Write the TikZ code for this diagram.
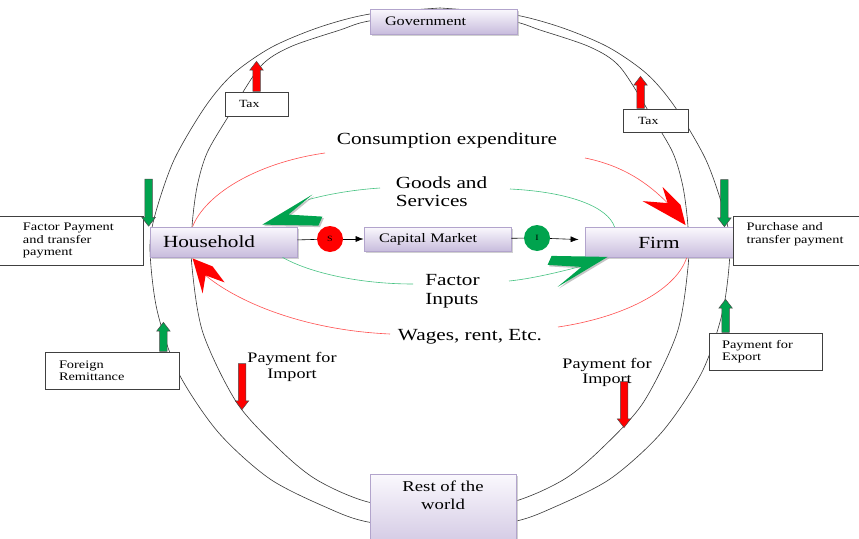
\documentclass[tikz,border=0pt]{standalone}
\usepackage{fontspec}
\setmainfont{Liberation Serif}[FakeStretch=1.25]
\usetikzlibrary{arrows.meta,shapes.arrows,shadows}

\definecolor{boxtop}{RGB}{250,248,253}
\definecolor{boxbot}{RGB}{200,188,221}
\definecolor{boxline}{RGB}{178,164,204}
\definecolor{flowred}{RGB}{255,80,80}
\definecolor{flowgreen}{RGB}{70,195,130}
\definecolor{leafgreen}{RGB}{0,163,78}
\definecolor{ringgray}{RGB}{55,55,55}

\newcommand{\fsz}[2]{\fontsize{#1}{#2}\selectfont}

\tikzset{
  sector/.style={draw=boxline, line width=0.8pt, top color=boxtop, bottom color=boxbot,
    drop shadow={shadow xshift=1.5pt, shadow yshift=-1.5pt, fill=black!30, opacity=0.6},
    minimum height=30pt, inner ysep=0pt, align=left},
  infobox/.style={draw=black!75, line width=0.8pt, fill=white, inner ysep=0pt,
    align=left, font=\fsz{11.5}{12.5}},
  flowtext/.style={fill=white, inner sep=1pt, align=left, font=\fsz{17}{18.5}},
  ring/.style={draw=ringgray, line width=0.6pt},
  redflow/.style={draw=flowred, line width=0.6pt},
  greenflow/.style={draw=flowgreen, line width=0.6pt},
  redchev/.style={fill=red},
  greenchev/.style={fill=leafgreen, drop shadow={shadow xshift=1.5pt, shadow yshift=-1.5pt, fill=black!45, opacity=0.5}},
  blockarrow/.style={single arrow, draw=black!70, line width=0.5pt, inner sep=3.5pt,
    single arrow head extend=3pt, single arrow tip angle=75, minimum height=#1},
  uparrow/.style={blockarrow=#1, shape border rotate=90},
  downarrow/.style={blockarrow=#1, shape border rotate=270},
}

\begin{document}
\begin{tikzpicture}[x=1pt, y=-1pt, >=Latex]
  \useasboundingbox (0,0) rectangle (859,538);
  \fill[white] (0,0) rectangle (859,538);
  \clip (0,0) rectangle (859,538);

  % draw the two rings, left half and its mirror image
  \foreach \s in {1,-1} {
    \draw[ring, xshift=440pt, xscale=\s] plot[smooth] coordinates
      {(0,8) (-70,14) (-120,27) (-168,47) (-207,74) (-235,107) (-266,160) (-285,215)
       (-290,250) (-283,310) (-262,372) (-222,432) (-170,479) (-110,509) (-72,522) (0,531)};
    \draw[ring, xshift=440pt, xscale=\s] plot[smooth] coordinates
      {(0,12) (-71,21) (-100,30) (-150,47) (-180,67) (-212,117) (-233,153) (-243,187)
       (-248,227) (-248,267) (-237,333) (-203,403) (-160,450) (-123,480) (-72,502) (0,512)};
  }

  % the sectors
  \node[sector, minimum width=147pt, minimum height=25pt, text width=117pt, inner xsep=15pt,
    font=\fsz{13}{15}] (gov) at (443.5,21.5) {Government};
  \node[sector, minimum width=147pt, text width=121pt, inner xsep=13pt,
    font=\fsz{17}{20}] (hh) at (223.5,242) {Household};
  \node[sector, minimum width=148pt, text width=120pt, inner xsep=14pt, align=center,
    font=\fsz{17}{20}] (firm) at (659,242.5) {Firm};
  \node[sector, minimum width=147pt, minimum height=24pt, text width=117pt, inner xsep=15pt,
    font=\fsz{13}{15}] (cap) at (437.5,239) {Capital Market};
  \node[sector, minimum width=146pt, minimum height=90pt, anchor=north,
    label={[anchor=north, yshift=-3pt, align=center, font=\fsz{15}{18}]north:Rest of the\\world}]
    (row) at (443,474) {};

  % boxes for the outer flows
  \node[infobox, minimum width=63pt, minimum height=24pt, text width=35pt, inner xsep=14pt,
    font=\fsz{11}{12}] (taxL) at (256.5,104) {Tax};
  \node[infobox, minimum width=65pt, minimum height=23pt, text width=35pt, inner xsep=15pt,
    font=\fsz{11}{12}] (taxR) at (655.5,120.5) {Tax};
  \node[infobox, minimum width=144pt, minimum height=49pt, text width=96pt, inner xsep=24pt]
    (fpay) at (71,240.5) {Factor Payment\\and transfer\\payment};
  \node[infobox, minimum width=150pt, minimum height=49pt, anchor=north west,
    label={[anchor=north west, xshift=10pt, yshift=-3pt, align=left, font=\fsz{11.5}{12.5}]north west:Purchase and\\transfer payment}]
    (purch) at (733,216) {};
  \node[infobox, minimum width=134pt, minimum height=37pt, text width=106pt, inner xsep=14pt]
    (fr) at (112,370.5) {Foreign\\Remittance};
  \node[infobox, minimum width=113pt, minimum height=37pt, text width=87pt, inner xsep=13pt]
    (exp) at (765.5,351.5) {Payment for\\Export};

  % saving and investment
  \node[circle, fill=red, minimum size=26pt, inner sep=0pt, font=\fsz{8}{9}] (sav) at (330,239) {S};
  \node[circle, fill=leafgreen, minimum size=26pt, inner sep=0pt, font=\fsz{8}{9}] (inv) at (537,238) {I};
  \draw[line width=0.6pt] (hh) -- (sav);
  \draw[line width=0.6pt, -{Latex[length=8pt,width=6pt]}] (sav) -- (cap);
  \draw[line width=0.6pt] (cap) -- (inv);
  \draw[line width=0.6pt, -{Latex[length=8pt,width=6pt]}, shorten >=6pt] (inv) -- (firm);

  % labels of the inner flows
  \node[flowtext, align=center] (cons) at (447,140) {Consumption expenditure};
  \node[flowtext] (goods) at (441.5,191.5) {Goods and\\Services};
  \node[flowtext] (fact) at (452.5,291) {Factor\\Inputs};
  \node[flowtext] (wage) at (470,337) {Wages, rent, Etc.};
  \node[font=\fsz{14.5}{15.5}, align=center] (impL) at (292,367) {Payment for\\Import};
  \node[font=\fsz{14.5}{15.5}, align=center] (impR) at (607,372.5) {Payment for\\Import};

  \coordinate (consL) at (325,153);
  \coordinate (consR) at (585,158);
  \coordinate (goodsR) at (510,189);
  \coordinate (goodsL) at (380,188);
  \coordinate (factL) at (413,284);
  \coordinate (factR) at (509,281);
  \coordinate (wageR) at (558,327);
  \coordinate (wageL) at (390,334);

  % tips of the big chevrons
  \coordinate (consTip) at ([xshift=101pt, yshift=2pt]firm.north west);
  \coordinate (goodsTip) at ([xshift=-35pt, yshift=2pt]hh.north east);
  \coordinate (factTip) at ([xshift=23pt, yshift=1pt]firm.south west);
  \coordinate (wageTip) at ([xshift=43pt, yshift=-1pt]hh.south west);

  % consumption expenditure
  \draw[redflow] ([xshift=43pt]hh.north west) .. controls (205,195) and (255,163) .. (consL);
  \draw[redflow] (consR) .. controls (625,166) and (650,185) .. ([shift={(-17,-21)}]consTip);
  \fill[redchev] (consTip) -- ++(-43,-24) -- ++(25,2) -- ++(-5,-16) -- ++(18,18) -- cycle;

  % goods and services
  \draw[greenflow] ([xshift=30pt]firm.north west) .. controls (608,207) and (570,192) .. (goodsR);
  \draw[greenflow] (goodsL) .. controls (350,190) and (325,195) .. ([shift={(46,-25)}]goodsTip);
  \fill[greenchev] (goodsTip) -- ++(50,-30) -- ++(-24,20) -- ++(34,2) -- ++(-4,9) -- cycle;

  % factor inputs
  \draw[greenflow] ([xshift=133pt]hh.south west) .. controls (310,273) and (360,284) .. (factL);
  \draw[greenflow] (factR) .. controls (530,279) and (560,272) .. ([shift={(-25,9)}]factTip);
  \fill[greenchev] (factTip) -- ++(-50,30) -- ++(24,-20) -- ++(-34,-2) -- ++(4,-9) -- cycle;

  % wages, rent
  \draw[redflow] ([xshift=102pt]firm.south west) .. controls (675,292) and (620,318) .. (wageR);
  \draw[redflow] (wageL) .. controls (300,330) and (235,300) .. ([shift={(13,17)}]wageTip);
  \fill[redchev] (wageTip) -- ++(10,35) -- ++(3,-18) -- ++(19,7) -- ++(-12,-16) -- cycle;

  % block arrows on the rings
  \node[uparrow=30pt, fill=red, anchor=tail] (taxLup) at (taxL.north) {};
  \node[uparrow=32pt, fill=red, anchor=tail] (taxRup) at ([xshift=-15pt]taxR.north) {};
  \node[downarrow=47pt, fill=leafgreen, anchor=tip] (fpaydown) at ([xshift=-1pt]hh.north west) {};
  \node[downarrow=47pt, fill=leafgreen, anchor=tip] (purchdown) at ([xshift=-9pt]firm.north east) {};
  \node[uparrow=29pt, fill=leafgreen, anchor=tail] (frup) at ([xshift=-16pt]fr.north east) {};
  \node[uparrow=33pt, fill=leafgreen, anchor=tail] (expup) at ([xshift=17pt]exp.north west) {};
  \node[downarrow=46pt, fill=red, anchor=tip] (impLdown) at (242,410) {};
  \node[downarrow=46pt, fill=red, anchor=tip] (impRdown) at (624,428) {};
\end{tikzpicture}
\end{document}
